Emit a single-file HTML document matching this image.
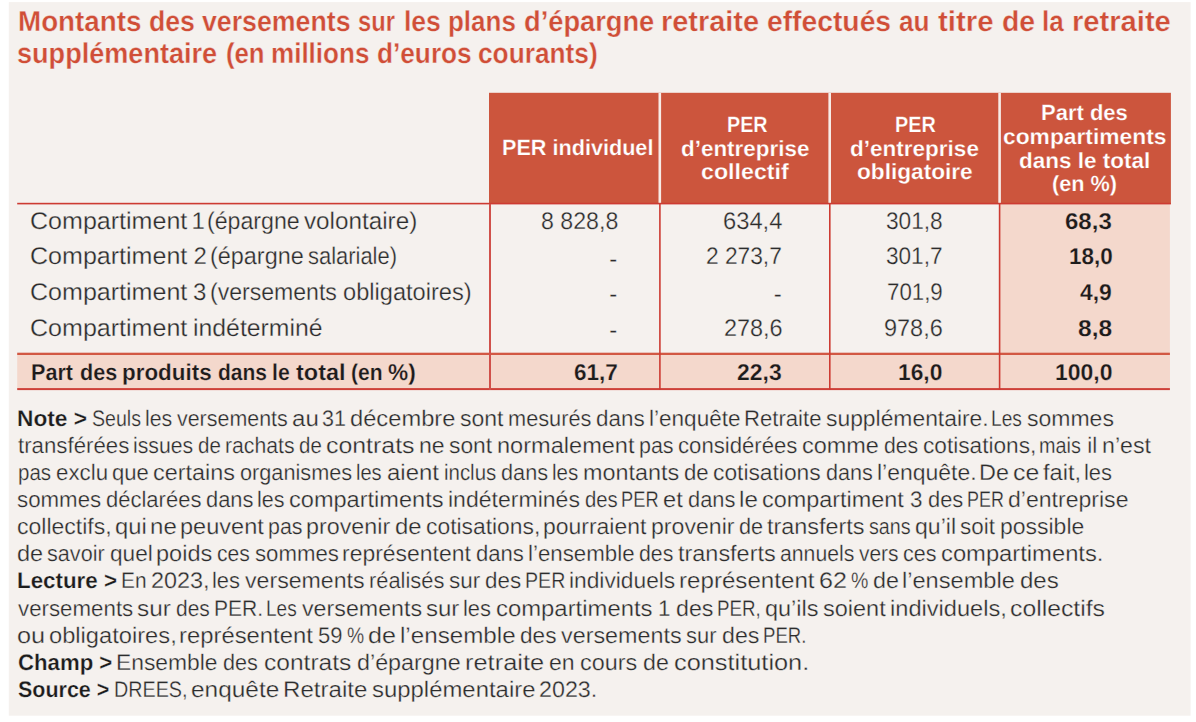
<!DOCTYPE html>
<html><head><meta charset="utf-8"><title>Table</title>
<style>
html,body{margin:0;padding:0;background:#fff;}
body{width:1196px;height:722px;position:relative;overflow:hidden;font-family:"Liberation Sans", sans-serif;}
.t{position:absolute;white-space:pre;line-height:1;font-family:"Liberation Sans", sans-serif;transform-origin:0 0;text-rendering:geometricPrecision;}
.t b{color:#1c1c1c;font-weight:bold;letter-spacing:0.5px;-webkit-text-stroke:0;}
.r{position:absolute;}
</style></head><body>
<svg width="1196" height="722" viewBox="0 0 1196 722" style="position:absolute;left:0;top:0">
<rect x="8.8" y="2.1" width="1181.8" height="713.6" fill="#f5f1ee"/>
<rect x="1000" y="204" width="169.9" height="185" fill="#f4d8cc"/>
<rect x="17.2" y="354" width="1152.7" height="35" fill="#f4d8cc"/>
<rect x="489" y="92.8" width="681.9" height="111" fill="#cc553d"/>
<rect x="658.5" y="92.8" width="2.6" height="110.4" fill="#f7ebe7"/>
<rect x="828.4" y="92.8" width="2.6" height="110.4" fill="#f7ebe7"/>
<rect x="998.3" y="92.8" width="2.6" height="110.4" fill="#f7ebe7"/>
<rect x="17.2" y="202.8" width="1153.7" height="1.6" fill="#cd3b32"/>
<rect x="17.2" y="352.7" width="1152.7" height="2.3" fill="#d25843"/>
<rect x="17.2" y="388.1" width="1152.7" height="2.0" fill="#ce4038"/>
<rect x="489" y="204" width="2" height="186" fill="#d0504a"/>
<rect x="659.1" y="204" width="1.6" height="186" fill="#cd3b32"/>
<rect x="829" y="204" width="1.6" height="186" fill="#cd3b32"/>
<rect x="998.8" y="204" width="1.6" height="186" fill="#cd3b32"/>
</svg>
<div class="t" style="left:17.66px;top:8px;font-size:28.6px;color:#d04e37;transform:scaleX(0.9712);font-weight:bold;-webkit-text-stroke:0.3px #f5f1ee;">Montants</div>
<div class="t" style="left:148.77px;top:8px;font-size:28.6px;color:#d04e37;transform:scaleX(0.9312);font-weight:bold;-webkit-text-stroke:0.3px #f5f1ee;">des</div>
<div class="t" style="left:202.07px;top:8px;font-size:28.6px;color:#d04e37;transform:scaleX(0.9342);font-weight:bold;-webkit-text-stroke:0.3px #f5f1ee;">versements</div>
<div class="t" style="left:357.65px;top:8px;font-size:28.6px;color:#d04e37;transform:scaleX(0.8280);font-weight:bold;-webkit-text-stroke:0.3px #f5f1ee;">sur</div>
<div class="t" style="left:404.49px;top:8px;font-size:28.6px;color:#d04e37;transform:scaleX(0.9277);font-weight:bold;-webkit-text-stroke:0.3px #f5f1ee;">les</div>
<div class="t" style="left:448.06px;top:8px;font-size:28.6px;color:#d04e37;transform:scaleX(0.9081);font-weight:bold;-webkit-text-stroke:0.3px #f5f1ee;">plans</div>
<div class="t" style="left:523.54px;top:8px;font-size:28.6px;color:#d04e37;transform:scaleX(0.9531);font-weight:bold;-webkit-text-stroke:0.3px #f5f1ee;">d’épargne</div>
<div class="t" style="left:661.03px;top:8px;font-size:28.6px;color:#d04e37;transform:scaleX(1.0109);font-weight:bold;-webkit-text-stroke:0.3px #f5f1ee;">retraite</div>
<div class="t" style="left:766.99px;top:8px;font-size:28.6px;color:#d04e37;transform:scaleX(0.9882);font-weight:bold;-webkit-text-stroke:0.3px #f5f1ee;">effectués</div>
<div class="t" style="left:899.28px;top:8px;font-size:28.6px;color:#d04e37;transform:scaleX(0.9158);font-weight:bold;-webkit-text-stroke:0.3px #f5f1ee;">au</div>
<div class="t" style="left:938.11px;top:8px;font-size:28.6px;color:#d04e37;transform:scaleX(1.0265);font-weight:bold;-webkit-text-stroke:0.3px #f5f1ee;">titre</div>
<div class="t" style="left:1001.73px;top:8px;font-size:28.6px;color:#d04e37;transform:scaleX(0.9925);font-weight:bold;-webkit-text-stroke:0.3px #f5f1ee;">de</div>
<div class="t" style="left:1042.14px;top:8px;font-size:28.6px;color:#d04e37;transform:scaleX(0.9110);font-weight:bold;-webkit-text-stroke:0.3px #f5f1ee;">la</div>
<div class="t" style="left:1071.98px;top:8px;font-size:28.6px;color:#d04e37;transform:scaleX(1.0191);font-weight:bold;-webkit-text-stroke:0.3px #f5f1ee;">retraite</div>
<div class="t" style="left:16.70px;top:40px;font-size:28.6px;color:#d04e37;transform:scaleX(0.9471);font-weight:bold;-webkit-text-stroke:0.3px #f5f1ee;">supplémentaire</div>
<div class="t" style="left:225.94px;top:40px;font-size:28.6px;color:#d04e37;transform:scaleX(0.8997);font-weight:bold;-webkit-text-stroke:0.3px #f5f1ee;">(en</div>
<div class="t" style="left:270.80px;top:40px;font-size:28.6px;color:#d04e37;transform:scaleX(0.9106);font-weight:bold;-webkit-text-stroke:0.3px #f5f1ee;">millions</div>
<div class="t" style="left:376.67px;top:40px;font-size:28.6px;color:#d04e37;transform:scaleX(0.9167);font-weight:bold;-webkit-text-stroke:0.3px #f5f1ee;">d’euros</div>
<div class="t" style="left:477.61px;top:40px;font-size:28.6px;color:#d04e37;transform:scaleX(0.9186);font-weight:bold;-webkit-text-stroke:0.3px #f5f1ee;">courants)</div>
<div class="t" style="left:502.03px;top:137px;font-size:22px;color:#ffffff;transform:scaleX(0.9830);font-weight:bold;-webkit-text-stroke:0.25px #cc553d;">PER individuel</div>
<div class="t" style="left:727.41px;top:114px;font-size:22px;color:#ffffff;transform:scaleX(0.8957);font-weight:bold;-webkit-text-stroke:0.25px #cc553d;">PER</div>
<div class="t" style="left:680.51px;top:138px;font-size:22px;color:#ffffff;transform:scaleX(1.0193);font-weight:bold;-webkit-text-stroke:0.25px #cc553d;">d’entreprise</div>
<div class="t" style="left:700.95px;top:161px;font-size:22px;color:#ffffff;transform:scaleX(1.0549);font-weight:bold;-webkit-text-stroke:0.25px #cc553d;">collectif</div>
<div class="t" style="left:894.72px;top:114px;font-size:22px;color:#ffffff;transform:scaleX(0.8998);font-weight:bold;-webkit-text-stroke:0.25px #cc553d;">PER</div>
<div class="t" style="left:850.36px;top:138px;font-size:22px;color:#ffffff;transform:scaleX(1.0236);font-weight:bold;-webkit-text-stroke:0.25px #cc553d;">d’entreprise</div>
<div class="t" style="left:856.67px;top:161px;font-size:22px;color:#ffffff;transform:scaleX(1.0290);font-weight:bold;-webkit-text-stroke:0.25px #cc553d;">obligatoire</div>
<div class="t" style="left:1041.07px;top:102px;font-size:22px;color:#ffffff;transform:scaleX(0.9998);font-weight:bold;-webkit-text-stroke:0.25px #cc553d;">Part des</div>
<div class="t" style="left:1002.89px;top:126px;font-size:22px;color:#ffffff;transform:scaleX(1.0365);font-weight:bold;-webkit-text-stroke:0.25px #cc553d;">compartiments</div>
<div class="t" style="left:1018.95px;top:150px;font-size:22px;color:#ffffff;transform:scaleX(1.0219);font-weight:bold;-webkit-text-stroke:0.25px #cc553d;">dans le total</div>
<div class="t" style="left:1051.78px;top:173px;font-size:22px;color:#ffffff;transform:scaleX(0.9849);font-weight:bold;-webkit-text-stroke:0.25px #cc553d;">(en %)</div>
<div class="t" style="left:30.14px;top:210px;font-size:24px;color:#2c2c2c;transform:scaleX(1.0436);-webkit-text-stroke:0.28px #f5f1ee;">Compartiment</div>
<div class="t" style="left:191.53px;top:210px;font-size:24px;color:#2c2c2c;transform:scaleX(1.0000);-webkit-text-stroke:0.28px #f5f1ee;">1</div>
<div class="t" style="left:206.89px;top:210px;font-size:24px;color:#2c2c2c;transform:scaleX(0.9653);-webkit-text-stroke:0.28px #f5f1ee;">(épargne</div>
<div class="t" style="left:303.96px;top:210px;font-size:24px;color:#2c2c2c;transform:scaleX(1.0103);-webkit-text-stroke:0.28px #f5f1ee;">volontaire)</div>
<div class="t" style="left:30.14px;top:245px;font-size:24px;color:#2c2c2c;transform:scaleX(1.0436);-webkit-text-stroke:0.28px #f5f1ee;">Compartiment</div>
<div class="t" style="left:193.55px;top:245px;font-size:24px;color:#2c2c2c;transform:scaleX(1.0000);-webkit-text-stroke:0.28px #f5f1ee;">2</div>
<div class="t" style="left:210.05px;top:245px;font-size:24px;color:#2c2c2c;transform:scaleX(0.9751);-webkit-text-stroke:0.28px #f5f1ee;">(épargne</div>
<div class="t" style="left:308.00px;top:245px;font-size:24px;color:#2c2c2c;transform:scaleX(0.9134);-webkit-text-stroke:0.28px #f5f1ee;">salariale)</div>
<div class="t" style="left:30.14px;top:281px;font-size:24px;color:#2c2c2c;transform:scaleX(1.0436);-webkit-text-stroke:0.28px #f5f1ee;">Compartiment</div>
<div class="t" style="left:192.88px;top:281px;font-size:24px;color:#2c2c2c;transform:scaleX(1.0000);-webkit-text-stroke:0.28px #f5f1ee;">3</div>
<div class="t" style="left:209.97px;top:281px;font-size:24px;color:#2c2c2c;transform:scaleX(0.9606);-webkit-text-stroke:0.28px #f5f1ee;">(versements</div>
<div class="t" style="left:343.20px;top:281px;font-size:24px;color:#2c2c2c;transform:scaleX(0.9837);-webkit-text-stroke:0.28px #f5f1ee;">obligatoires)</div>
<div class="t" style="left:30.14px;top:317px;font-size:24px;color:#2c2c2c;transform:scaleX(1.0436);-webkit-text-stroke:0.28px #f5f1ee;">Compartiment</div>
<div class="t" style="left:192.73px;top:317px;font-size:24px;color:#2c2c2c;transform:scaleX(1.0336);-webkit-text-stroke:0.28px #f5f1ee;">indéterminé</div>
<div class="t" style="left:31.09px;top:361px;font-size:22.9px;color:#1c1c1c;transform:scaleX(0.9436);font-weight:bold;-webkit-text-stroke:0.25px #f4d8cc;">Part</div>
<div class="t" style="left:80.19px;top:361px;font-size:22.9px;color:#1c1c1c;transform:scaleX(0.9426);font-weight:bold;-webkit-text-stroke:0.25px #f4d8cc;">des</div>
<div class="t" style="left:122.04px;top:361px;font-size:22.9px;color:#1c1c1c;transform:scaleX(0.9786);font-weight:bold;-webkit-text-stroke:0.25px #f4d8cc;">produits</div>
<div class="t" style="left:217.86px;top:361px;font-size:22.9px;color:#1c1c1c;transform:scaleX(0.9183);font-weight:bold;-webkit-text-stroke:0.25px #f4d8cc;">dans</div>
<div class="t" style="left:272.09px;top:361px;font-size:22.9px;color:#1c1c1c;transform:scaleX(0.9259);font-weight:bold;-webkit-text-stroke:0.25px #f4d8cc;">le</div>
<div class="t" style="left:295.58px;top:361px;font-size:22.9px;color:#1c1c1c;transform:scaleX(1.0256);font-weight:bold;-webkit-text-stroke:0.25px #f4d8cc;">total</div>
<div class="t" style="left:350.52px;top:361px;font-size:22.9px;color:#1c1c1c;transform:scaleX(0.9189);font-weight:bold;-webkit-text-stroke:0.25px #f4d8cc;">(en</div>
<div class="t" style="left:387.62px;top:361px;font-size:22.9px;color:#1c1c1c;transform:scaleX(0.9900);font-weight:bold;-webkit-text-stroke:0.25px #f4d8cc;">%)</div>
<div class="t" style="left:540.63px;top:210px;font-size:24px;color:#2c2c2c;transform:scaleX(0.9648);-webkit-text-stroke:0.28px #f5f1ee;">8 828,8</div>
<div class="t" style="left:609.32px;top:248px;font-size:24px;color:#2c2c2c;transform:scaleX(1.0000);-webkit-text-stroke:0.28px #f5f1ee;">-</div>
<div class="t" style="left:609.32px;top:283px;font-size:24px;color:#2c2c2c;transform:scaleX(1.0000);-webkit-text-stroke:0.28px #f5f1ee;">-</div>
<div class="t" style="left:609.32px;top:319px;font-size:24px;color:#2c2c2c;transform:scaleX(1.0000);-webkit-text-stroke:0.28px #f5f1ee;">-</div>
<div class="t" style="left:574.15px;top:361px;font-size:22.9px;color:#1c1c1c;transform:scaleX(0.9839);font-weight:bold;-webkit-text-stroke:0.25px #f4d8cc;">61,7</div>
<div class="t" style="left:722.90px;top:210px;font-size:24px;color:#2c2c2c;transform:scaleX(0.9884);-webkit-text-stroke:0.28px #f5f1ee;">634,4</div>
<div class="t" style="left:706.27px;top:245px;font-size:24px;color:#2c2c2c;transform:scaleX(0.9468);-webkit-text-stroke:0.28px #f5f1ee;">2 273,7</div>
<div class="t" style="left:773.87px;top:283px;font-size:24px;color:#2c2c2c;transform:scaleX(1.0000);-webkit-text-stroke:0.28px #f5f1ee;">-</div>
<div class="t" style="left:724.26px;top:317px;font-size:24px;color:#2c2c2c;transform:scaleX(0.9766);-webkit-text-stroke:0.28px #f5f1ee;">278,6</div>
<div class="t" style="left:736.99px;top:361px;font-size:22.9px;color:#1c1c1c;transform:scaleX(1.0022);font-weight:bold;-webkit-text-stroke:0.25px #f4d8cc;">22,3</div>
<div class="t" style="left:886.03px;top:210px;font-size:24px;color:#2c2c2c;transform:scaleX(0.9443);-webkit-text-stroke:0.28px #f5f1ee;">301,8</div>
<div class="t" style="left:886.28px;top:245px;font-size:24px;color:#2c2c2c;transform:scaleX(0.9404);-webkit-text-stroke:0.28px #f5f1ee;">301,7</div>
<div class="t" style="left:887.02px;top:281px;font-size:24px;color:#2c2c2c;transform:scaleX(0.9273);-webkit-text-stroke:0.28px #f5f1ee;">701,9</div>
<div class="t" style="left:883.67px;top:317px;font-size:24px;color:#2c2c2c;transform:scaleX(0.9775);-webkit-text-stroke:0.28px #f5f1ee;">978,6</div>
<div class="t" style="left:897.90px;top:361px;font-size:22.9px;color:#1c1c1c;transform:scaleX(0.9964);font-weight:bold;-webkit-text-stroke:0.25px #f4d8cc;">16,0</div>
<div class="t" style="left:1064.86px;top:210px;font-size:22.9px;color:#1c1c1c;transform:scaleX(1.0497);font-weight:bold;-webkit-text-stroke:0.25px #f4d8cc;">68,3</div>
<div class="t" style="left:1068.95px;top:245px;font-size:22.9px;color:#1c1c1c;transform:scaleX(0.9813);font-weight:bold;-webkit-text-stroke:0.25px #f4d8cc;">18,0</div>
<div class="t" style="left:1080.00px;top:281px;font-size:22.9px;color:#1c1c1c;transform:scaleX(1.0000);font-weight:bold;-webkit-text-stroke:0.25px #f4d8cc;">4,9</div>
<div class="t" style="left:1078.18px;top:317px;font-size:22.9px;color:#1c1c1c;transform:scaleX(1.0721);font-weight:bold;-webkit-text-stroke:0.25px #f4d8cc;">8,8</div>
<div class="t" style="left:1055.28px;top:361px;font-size:22.9px;color:#1c1c1c;transform:scaleX(1.0028);font-weight:bold;-webkit-text-stroke:0.25px #f4d8cc;">100,0</div>
<div class="t" style="left:17.02px;top:408px;font-size:22.4px;color:#1c1c1c;transform:scaleX(1.0144);font-weight:bold;-webkit-text-stroke:0.25px #f5f1ee;">Note &gt;</div>
<div class="t" style="left:91.56px;top:408px;font-size:22.4px;color:#2c2c2c;transform:scaleX(0.8750);-webkit-text-stroke:0.28px #f5f1ee;">Seuls</div>
<div class="t" style="left:144.88px;top:408px;font-size:22.4px;color:#2c2c2c;transform:scaleX(0.9534);-webkit-text-stroke:0.28px #f5f1ee;">les</div>
<div class="t" style="left:176.85px;top:408px;font-size:22.4px;color:#2c2c2c;transform:scaleX(0.9567);-webkit-text-stroke:0.28px #f5f1ee;">versements</div>
<div class="t" style="left:291.86px;top:408px;font-size:22.4px;color:#2c2c2c;transform:scaleX(1.0751);-webkit-text-stroke:0.28px #f5f1ee;">au</div>
<div class="t" style="left:322.46px;top:408px;font-size:22.4px;color:#2c2c2c;transform:scaleX(0.9587);-webkit-text-stroke:0.28px #f5f1ee;">31</div>
<div class="t" style="left:349.92px;top:408px;font-size:22.4px;color:#2c2c2c;transform:scaleX(1.0587);-webkit-text-stroke:0.28px #f5f1ee;">décembre</div>
<div class="t" style="left:460.04px;top:408px;font-size:22.4px;color:#2c2c2c;transform:scaleX(1.0279);-webkit-text-stroke:0.28px #f5f1ee;">sont</div>
<div class="t" style="left:508.02px;top:408px;font-size:22.4px;color:#2c2c2c;transform:scaleX(0.9718);-webkit-text-stroke:0.28px #f5f1ee;">mesurés</div>
<div class="t" style="left:596.39px;top:408px;font-size:22.4px;color:#2c2c2c;transform:scaleX(1.0017);-webkit-text-stroke:0.28px #f5f1ee;">dans</div>
<div class="t" style="left:648.57px;top:408px;font-size:22.4px;color:#2c2c2c;transform:scaleX(1.0077);-webkit-text-stroke:0.28px #f5f1ee;">l’enquête</div>
<div class="t" style="left:744.17px;top:408px;font-size:22.4px;color:#2c2c2c;transform:scaleX(0.9883);-webkit-text-stroke:0.28px #f5f1ee;">Retraite</div>
<div class="t" style="left:826.32px;top:408px;font-size:22.4px;color:#2c2c2c;transform:scaleX(1.0211);-webkit-text-stroke:0.28px #f5f1ee;">supplémentaire.</div>
<div class="t" style="left:991.02px;top:408px;font-size:22.4px;color:#2c2c2c;transform:scaleX(0.8541);-webkit-text-stroke:0.28px #f5f1ee;">Les</div>
<div class="t" style="left:1026.88px;top:408px;font-size:22.4px;color:#2c2c2c;transform:scaleX(1.0273);-webkit-text-stroke:0.28px #f5f1ee;">sommes</div>
<div class="t" style="left:17.65px;top:435px;font-size:22.4px;color:#2c2c2c;transform:scaleX(0.9934);-webkit-text-stroke:0.28px #f5f1ee;">transférées</div>
<div class="t" style="left:133.11px;top:435px;font-size:22.4px;color:#2c2c2c;transform:scaleX(0.9473);-webkit-text-stroke:0.28px #f5f1ee;">issues</div>
<div class="t" style="left:197.95px;top:435px;font-size:22.4px;color:#2c2c2c;transform:scaleX(0.9200);-webkit-text-stroke:0.28px #f5f1ee;">de</div>
<div class="t" style="left:225.07px;top:435px;font-size:22.4px;color:#2c2c2c;transform:scaleX(0.9464);-webkit-text-stroke:0.28px #f5f1ee;">rachats</div>
<div class="t" style="left:299.00px;top:435px;font-size:22.4px;color:#2c2c2c;transform:scaleX(0.9142);-webkit-text-stroke:0.28px #f5f1ee;">de</div>
<div class="t" style="left:326.26px;top:435px;font-size:22.4px;color:#2c2c2c;transform:scaleX(1.1111);-webkit-text-stroke:0.28px #f5f1ee;">contrats</div>
<div class="t" style="left:418.71px;top:435px;font-size:22.4px;color:#2c2c2c;transform:scaleX(1.0317);-webkit-text-stroke:0.28px #f5f1ee;">ne</div>
<div class="t" style="left:449.21px;top:435px;font-size:22.4px;color:#2c2c2c;transform:scaleX(1.0192);-webkit-text-stroke:0.28px #f5f1ee;">sont</div>
<div class="t" style="left:496.88px;top:435px;font-size:22.4px;color:#2c2c2c;transform:scaleX(1.0524);-webkit-text-stroke:0.28px #f5f1ee;">normalement</div>
<div class="t" style="left:638.86px;top:435px;font-size:22.4px;color:#2c2c2c;transform:scaleX(0.9577);-webkit-text-stroke:0.28px #f5f1ee;">pas</div>
<div class="t" style="left:678.24px;top:435px;font-size:22.4px;color:#2c2c2c;transform:scaleX(0.9888);-webkit-text-stroke:0.28px #f5f1ee;">considérées</div>
<div class="t" style="left:801.92px;top:435px;font-size:22.4px;color:#2c2c2c;transform:scaleX(1.0477);-webkit-text-stroke:0.28px #f5f1ee;">comme</div>
<div class="t" style="left:883.89px;top:435px;font-size:22.4px;color:#2c2c2c;transform:scaleX(0.9470);-webkit-text-stroke:0.28px #f5f1ee;">des</div>
<div class="t" style="left:922.85px;top:435px;font-size:22.4px;color:#2c2c2c;transform:scaleX(1.0117);-webkit-text-stroke:0.28px #f5f1ee;">cotisations,</div>
<div class="t" style="left:1039.36px;top:435px;font-size:22.4px;color:#2c2c2c;transform:scaleX(0.8841);-webkit-text-stroke:0.28px #f5f1ee;">mais</div>
<div class="t" style="left:1087.17px;top:435px;font-size:22.4px;color:#2c2c2c;transform:scaleX(1.0000);-webkit-text-stroke:0.28px #f5f1ee;">il</div>
<div class="t" style="left:1102.33px;top:435px;font-size:22.4px;color:#2c2c2c;transform:scaleX(1.0344);-webkit-text-stroke:0.28px #f5f1ee;">n’est</div>
<div class="t" style="left:17.78px;top:462px;font-size:22.4px;color:#2c2c2c;transform:scaleX(0.9158);-webkit-text-stroke:0.28px #f5f1ee;">pas</div>
<div class="t" style="left:55.57px;top:462px;font-size:22.4px;color:#2c2c2c;transform:scaleX(0.9964);-webkit-text-stroke:0.28px #f5f1ee;">exclu</div>
<div class="t" style="left:111.63px;top:462px;font-size:22.4px;color:#2c2c2c;transform:scaleX(0.9866);-webkit-text-stroke:0.28px #f5f1ee;">que</div>
<div class="t" style="left:152.93px;top:462px;font-size:22.4px;color:#2c2c2c;transform:scaleX(1.0461);-webkit-text-stroke:0.28px #f5f1ee;">certains</div>
<div class="t" style="left:239.70px;top:462px;font-size:22.4px;color:#2c2c2c;transform:scaleX(0.9691);-webkit-text-stroke:0.28px #f5f1ee;">organismes</div>
<div class="t" style="left:355.92px;top:462px;font-size:22.4px;color:#2c2c2c;transform:scaleX(0.8960);-webkit-text-stroke:0.28px #f5f1ee;">les</div>
<div class="t" style="left:386.51px;top:462px;font-size:22.4px;color:#2c2c2c;transform:scaleX(1.0701);-webkit-text-stroke:0.28px #f5f1ee;">aient</div>
<div class="t" style="left:443.68px;top:462px;font-size:22.4px;color:#2c2c2c;transform:scaleX(0.9124);-webkit-text-stroke:0.28px #f5f1ee;">inclus</div>
<div class="t" style="left:500.89px;top:462px;font-size:22.4px;color:#2c2c2c;transform:scaleX(0.9690);-webkit-text-stroke:0.28px #f5f1ee;">dans</div>
<div class="t" style="left:552.32px;top:462px;font-size:22.4px;color:#2c2c2c;transform:scaleX(0.9173);-webkit-text-stroke:0.28px #f5f1ee;">les</div>
<div class="t" style="left:582.93px;top:462px;font-size:22.4px;color:#2c2c2c;transform:scaleX(1.0443);-webkit-text-stroke:0.28px #f5f1ee;">montants</div>
<div class="t" style="left:683.73px;top:462px;font-size:22.4px;color:#2c2c2c;transform:scaleX(0.9922);-webkit-text-stroke:0.28px #f5f1ee;">de</div>
<div class="t" style="left:712.99px;top:462px;font-size:22.4px;color:#2c2c2c;transform:scaleX(1.0173);-webkit-text-stroke:0.28px #f5f1ee;">cotisations</div>
<div class="t" style="left:825.64px;top:462px;font-size:22.4px;color:#2c2c2c;transform:scaleX(0.9661);-webkit-text-stroke:0.28px #f5f1ee;">dans</div>
<div class="t" style="left:876.96px;top:462px;font-size:22.4px;color:#2c2c2c;transform:scaleX(1.0262);-webkit-text-stroke:0.28px #f5f1ee;">l’enquête.</div>
<div class="t" style="left:979.45px;top:462px;font-size:22.4px;color:#2c2c2c;transform:scaleX(1.0444);-webkit-text-stroke:0.28px #f5f1ee;">De</div>
<div class="t" style="left:1013.26px;top:462px;font-size:22.4px;color:#2c2c2c;transform:scaleX(1.1095);-webkit-text-stroke:0.28px #f5f1ee;">ce</div>
<div class="t" style="left:1043.28px;top:462px;font-size:22.4px;color:#2c2c2c;transform:scaleX(1.0532);-webkit-text-stroke:0.28px #f5f1ee;">fait,</div>
<div class="t" style="left:1084.04px;top:462px;font-size:22.4px;color:#2c2c2c;transform:scaleX(0.9781);-webkit-text-stroke:0.28px #f5f1ee;">les</div>
<div class="t" style="left:17.21px;top:489px;font-size:22.4px;color:#2c2c2c;transform:scaleX(0.9951);-webkit-text-stroke:0.28px #f5f1ee;">sommes</div>
<div class="t" style="left:105.76px;top:489px;font-size:22.4px;color:#2c2c2c;transform:scaleX(0.9826);-webkit-text-stroke:0.28px #f5f1ee;">déclarées</div>
<div class="t" style="left:206.24px;top:489px;font-size:22.4px;color:#2c2c2c;transform:scaleX(0.9768);-webkit-text-stroke:0.28px #f5f1ee;">dans</div>
<div class="t" style="left:257.26px;top:489px;font-size:22.4px;color:#2c2c2c;transform:scaleX(0.9597);-webkit-text-stroke:0.28px #f5f1ee;">les</div>
<div class="t" style="left:289.27px;top:489px;font-size:22.4px;color:#2c2c2c;transform:scaleX(1.0519);-webkit-text-stroke:0.28px #f5f1ee;">compartiments</div>
<div class="t" style="left:447.77px;top:489px;font-size:22.4px;color:#2c2c2c;transform:scaleX(1.0290);-webkit-text-stroke:0.28px #f5f1ee;">indéterminés</div>
<div class="t" style="left:584.54px;top:489px;font-size:22.4px;color:#2c2c2c;transform:scaleX(0.9068);-webkit-text-stroke:0.28px #f5f1ee;">des</div>
<div class="t" style="left:621.09px;top:489px;font-size:22.4px;color:#2c2c2c;transform:scaleX(0.8164);-webkit-text-stroke:0.28px #f5f1ee;">PER</div>
<div class="t" style="left:662.91px;top:489px;font-size:22.4px;color:#2c2c2c;transform:scaleX(1.0580);-webkit-text-stroke:0.28px #f5f1ee;">et</div>
<div class="t" style="left:688.06px;top:489px;font-size:22.4px;color:#2c2c2c;transform:scaleX(0.9748);-webkit-text-stroke:0.28px #f5f1ee;">dans</div>
<div class="t" style="left:739.24px;top:489px;font-size:22.4px;color:#2c2c2c;transform:scaleX(1.0819);-webkit-text-stroke:0.28px #f5f1ee;">le</div>
<div class="t" style="left:762.14px;top:489px;font-size:22.4px;color:#2c2c2c;transform:scaleX(1.0457);-webkit-text-stroke:0.28px #f5f1ee;">compartiment</div>
<div class="t" style="left:910.07px;top:489px;font-size:22.4px;color:#2c2c2c;transform:scaleX(1.0000);-webkit-text-stroke:0.28px #f5f1ee;">3</div>
<div class="t" style="left:928.26px;top:489px;font-size:22.4px;color:#2c2c2c;transform:scaleX(0.9768);-webkit-text-stroke:0.28px #f5f1ee;">des</div>
<div class="t" style="left:966.74px;top:489px;font-size:22.4px;color:#2c2c2c;transform:scaleX(0.8014);-webkit-text-stroke:0.28px #f5f1ee;">PER</div>
<div class="t" style="left:1008.03px;top:489px;font-size:22.4px;color:#2c2c2c;transform:scaleX(1.0297);-webkit-text-stroke:0.28px #f5f1ee;">d’entreprise</div>
<div class="t" style="left:17.12px;top:516px;font-size:22.4px;color:#2c2c2c;transform:scaleX(1.0278);-webkit-text-stroke:0.28px #f5f1ee;">collectifs,</div>
<div class="t" style="left:114.90px;top:516px;font-size:22.4px;color:#2c2c2c;transform:scaleX(1.0609);-webkit-text-stroke:0.28px #f5f1ee;">qui</div>
<div class="t" style="left:149.65px;top:516px;font-size:22.4px;color:#2c2c2c;transform:scaleX(1.0755);-webkit-text-stroke:0.28px #f5f1ee;">ne</div>
<div class="t" style="left:179.90px;top:516px;font-size:22.4px;color:#2c2c2c;transform:scaleX(1.0520);-webkit-text-stroke:0.28px #f5f1ee;">peuvent</div>
<div class="t" style="left:268.08px;top:516px;font-size:22.4px;color:#2c2c2c;transform:scaleX(0.9559);-webkit-text-stroke:0.28px #f5f1ee;">pas</div>
<div class="t" style="left:305.83px;top:516px;font-size:22.4px;color:#2c2c2c;transform:scaleX(1.0402);-webkit-text-stroke:0.28px #f5f1ee;">provenir</div>
<div class="t" style="left:394.90px;top:516px;font-size:22.4px;color:#2c2c2c;transform:scaleX(1.0682);-webkit-text-stroke:0.28px #f5f1ee;">de</div>
<div class="t" style="left:425.58px;top:516px;font-size:22.4px;color:#2c2c2c;transform:scaleX(1.0205);-webkit-text-stroke:0.28px #f5f1ee;">cotisations,</div>
<div class="t" style="left:542.79px;top:516px;font-size:22.4px;color:#2c2c2c;transform:scaleX(1.0242);-webkit-text-stroke:0.28px #f5f1ee;">pourraient</div>
<div class="t" style="left:650.78px;top:516px;font-size:22.4px;color:#2c2c2c;transform:scaleX(1.0320);-webkit-text-stroke:0.28px #f5f1ee;">provenir</div>
<div class="t" style="left:739.05px;top:516px;font-size:22.4px;color:#2c2c2c;transform:scaleX(0.9682);-webkit-text-stroke:0.28px #f5f1ee;">de</div>
<div class="t" style="left:767.28px;top:516px;font-size:22.4px;color:#2c2c2c;transform:scaleX(1.0454);-webkit-text-stroke:0.28px #f5f1ee;">transferts</div>
<div class="t" style="left:868.99px;top:516px;font-size:22.4px;color:#2c2c2c;transform:scaleX(0.8789);-webkit-text-stroke:0.28px #f5f1ee;">sans</div>
<div class="t" style="left:915.16px;top:516px;font-size:22.4px;color:#2c2c2c;transform:scaleX(1.0297);-webkit-text-stroke:0.28px #f5f1ee;">qu’il</div>
<div class="t" style="left:960.14px;top:516px;font-size:22.4px;color:#2c2c2c;transform:scaleX(1.0002);-webkit-text-stroke:0.28px #f5f1ee;">soit</div>
<div class="t" style="left:999.79px;top:516px;font-size:22.4px;color:#2c2c2c;transform:scaleX(1.0256);-webkit-text-stroke:0.28px #f5f1ee;">possible</div>
<div class="t" style="left:17.13px;top:543px;font-size:22.4px;color:#2c2c2c;transform:scaleX(1.0500);-webkit-text-stroke:0.28px #f5f1ee;">de</div>
<div class="t" style="left:47.05px;top:543px;font-size:22.4px;color:#2c2c2c;transform:scaleX(0.9653);-webkit-text-stroke:0.28px #f5f1ee;">savoir</div>
<div class="t" style="left:109.85px;top:543px;font-size:22.4px;color:#2c2c2c;transform:scaleX(1.0111);-webkit-text-stroke:0.28px #f5f1ee;">quel</div>
<div class="t" style="left:155.91px;top:543px;font-size:22.4px;color:#2c2c2c;transform:scaleX(1.0519);-webkit-text-stroke:0.28px #f5f1ee;">poids</div>
<div class="t" style="left:216.92px;top:543px;font-size:22.4px;color:#2c2c2c;transform:scaleX(0.9435);-webkit-text-stroke:0.28px #f5f1ee;">ces</div>
<div class="t" style="left:254.53px;top:543px;font-size:22.4px;color:#2c2c2c;transform:scaleX(0.9915);-webkit-text-stroke:0.28px #f5f1ee;">sommes</div>
<div class="t" style="left:341.95px;top:543px;font-size:22.4px;color:#2c2c2c;transform:scaleX(1.0244);-webkit-text-stroke:0.28px #f5f1ee;">représentent</div>
<div class="t" style="left:476.22px;top:543px;font-size:22.4px;color:#2c2c2c;transform:scaleX(0.9870);-webkit-text-stroke:0.28px #f5f1ee;">dans</div>
<div class="t" style="left:527.79px;top:543px;font-size:22.4px;color:#2c2c2c;transform:scaleX(0.9952);-webkit-text-stroke:0.28px #f5f1ee;">l’ensemble</div>
<div class="t" style="left:639.19px;top:543px;font-size:22.4px;color:#2c2c2c;transform:scaleX(0.9494);-webkit-text-stroke:0.28px #f5f1ee;">des</div>
<div class="t" style="left:678.18px;top:543px;font-size:22.4px;color:#2c2c2c;transform:scaleX(1.0468);-webkit-text-stroke:0.28px #f5f1ee;">transferts</div>
<div class="t" style="left:780.27px;top:543px;font-size:22.4px;color:#2c2c2c;transform:scaleX(0.9474);-webkit-text-stroke:0.28px #f5f1ee;">annuels</div>
<div class="t" style="left:859.40px;top:543px;font-size:22.4px;color:#2c2c2c;transform:scaleX(0.9353);-webkit-text-stroke:0.28px #f5f1ee;">vers</div>
<div class="t" style="left:903.27px;top:543px;font-size:22.4px;color:#2c2c2c;transform:scaleX(0.9593);-webkit-text-stroke:0.28px #f5f1ee;">ces</div>
<div class="t" style="left:941.16px;top:543px;font-size:22.4px;color:#2c2c2c;transform:scaleX(1.0613);-webkit-text-stroke:0.28px #f5f1ee;">compartiments.</div>
<div class="t" style="left:17.45px;top:570px;font-size:22.4px;color:#1c1c1c;transform:scaleX(0.9981);font-weight:bold;-webkit-text-stroke:0.25px #f5f1ee;">Lecture &gt;</div>
<div class="t" style="left:121.11px;top:570px;font-size:22.4px;color:#2c2c2c;transform:scaleX(0.9330);-webkit-text-stroke:0.28px #f5f1ee;">En</div>
<div class="t" style="left:150.97px;top:570px;font-size:22.4px;color:#2c2c2c;transform:scaleX(1.0464);-webkit-text-stroke:0.28px #f5f1ee;">2023,</div>
<div class="t" style="left:212.04px;top:570px;font-size:22.4px;color:#2c2c2c;transform:scaleX(0.9781);-webkit-text-stroke:0.28px #f5f1ee;">les</div>
<div class="t" style="left:245.10px;top:570px;font-size:22.4px;color:#2c2c2c;transform:scaleX(1.0333);-webkit-text-stroke:0.28px #f5f1ee;">versements</div>
<div class="t" style="left:368.84px;top:570px;font-size:22.4px;color:#2c2c2c;transform:scaleX(0.9768);-webkit-text-stroke:0.28px #f5f1ee;">réalisés</div>
<div class="t" style="left:449.09px;top:570px;font-size:22.4px;color:#2c2c2c;transform:scaleX(1.0000);-webkit-text-stroke:0.28px #f5f1ee;">sur</div>
<div class="t" style="left:485.41px;top:570px;font-size:22.4px;color:#2c2c2c;transform:scaleX(0.9990);-webkit-text-stroke:0.28px #f5f1ee;">des</div>
<div class="t" style="left:524.72px;top:570px;font-size:22.4px;color:#2c2c2c;transform:scaleX(0.8755);-webkit-text-stroke:0.28px #f5f1ee;">PER</div>
<div class="t" style="left:568.60px;top:570px;font-size:22.4px;color:#2c2c2c;transform:scaleX(1.0162);-webkit-text-stroke:0.28px #f5f1ee;">individuels</div>
<div class="t" style="left:678.64px;top:570px;font-size:22.4px;color:#2c2c2c;transform:scaleX(1.0781);-webkit-text-stroke:0.28px #f5f1ee;">représentent</div>
<div class="t" style="left:819.31px;top:570px;font-size:22.4px;color:#2c2c2c;transform:scaleX(1.1207);-webkit-text-stroke:0.28px #f5f1ee;">62</div>
<div class="t" style="left:851.08px;top:570px;font-size:22.4px;color:#2c2c2c;transform:scaleX(0.8719);-webkit-text-stroke:0.28px #f5f1ee;">%</div>
<div class="t" style="left:873.45px;top:570px;font-size:22.4px;color:#2c2c2c;transform:scaleX(1.0421);-webkit-text-stroke:0.28px #f5f1ee;">de</div>
<div class="t" style="left:902.21px;top:570px;font-size:22.4px;color:#2c2c2c;transform:scaleX(1.0545);-webkit-text-stroke:0.28px #f5f1ee;">l’ensemble</div>
<div class="t" style="left:1019.67px;top:570px;font-size:22.4px;color:#2c2c2c;transform:scaleX(1.0735);-webkit-text-stroke:0.28px #f5f1ee;">des</div>
<div class="t" style="left:17.55px;top:598px;font-size:22.4px;color:#2c2c2c;transform:scaleX(0.9956);-webkit-text-stroke:0.28px #f5f1ee;">versements</div>
<div class="t" style="left:137.05px;top:598px;font-size:22.4px;color:#2c2c2c;transform:scaleX(1.0864);-webkit-text-stroke:0.28px #f5f1ee;">sur</div>
<div class="t" style="left:176.24px;top:598px;font-size:22.4px;color:#2c2c2c;transform:scaleX(0.9357);-webkit-text-stroke:0.28px #f5f1ee;">des</div>
<div class="t" style="left:213.54px;top:598px;font-size:22.4px;color:#2c2c2c;transform:scaleX(0.9402);-webkit-text-stroke:0.28px #f5f1ee;">PER.</div>
<div class="t" style="left:265.81px;top:598px;font-size:22.4px;color:#2c2c2c;transform:scaleX(0.8488);-webkit-text-stroke:0.28px #f5f1ee;">Les</div>
<div class="t" style="left:301.92px;top:598px;font-size:22.4px;color:#2c2c2c;transform:scaleX(1.0374);-webkit-text-stroke:0.28px #f5f1ee;">versements</div>
<div class="t" style="left:425.74px;top:598px;font-size:22.4px;color:#2c2c2c;transform:scaleX(1.0724);-webkit-text-stroke:0.28px #f5f1ee;">sur</div>
<div class="t" style="left:463.04px;top:598px;font-size:22.4px;color:#2c2c2c;transform:scaleX(0.9781);-webkit-text-stroke:0.28px #f5f1ee;">les</div>
<div class="t" style="left:495.78px;top:598px;font-size:22.4px;color:#2c2c2c;transform:scaleX(1.0659);-webkit-text-stroke:0.28px #f5f1ee;">compartiments</div>
<div class="t" style="left:658.11px;top:598px;font-size:22.4px;color:#2c2c2c;transform:scaleX(1.0000);-webkit-text-stroke:0.28px #f5f1ee;">1</div>
<div class="t" style="left:676.33px;top:598px;font-size:22.4px;color:#2c2c2c;transform:scaleX(1.0377);-webkit-text-stroke:0.28px #f5f1ee;">des</div>
<div class="t" style="left:717.05px;top:598px;font-size:22.4px;color:#2c2c2c;transform:scaleX(0.8367);-webkit-text-stroke:0.28px #f5f1ee;">PER,</div>
<div class="t" style="left:764.93px;top:598px;font-size:22.4px;color:#2c2c2c;transform:scaleX(1.0474);-webkit-text-stroke:0.28px #f5f1ee;">qu’ils</div>
<div class="t" style="left:822.98px;top:598px;font-size:22.4px;color:#2c2c2c;transform:scaleX(1.0487);-webkit-text-stroke:0.28px #f5f1ee;">soient</div>
<div class="t" style="left:890.29px;top:598px;font-size:22.4px;color:#2c2c2c;transform:scaleX(1.0552);-webkit-text-stroke:0.28px #f5f1ee;">individuels,</div>
<div class="t" style="left:1009.84px;top:598px;font-size:22.4px;color:#2c2c2c;transform:scaleX(1.1055);-webkit-text-stroke:0.28px #f5f1ee;">collectifs</div>
<div class="t" style="left:17.02px;top:625px;font-size:22.4px;color:#2c2c2c;transform:scaleX(1.1300);-webkit-text-stroke:0.28px #f5f1ee;">ou</div>
<div class="t" style="left:48.51px;top:625px;font-size:22.4px;color:#2c2c2c;transform:scaleX(1.0578);-webkit-text-stroke:0.28px #f5f1ee;">obligatoires,</div>
<div class="t" style="left:179.48px;top:625px;font-size:22.4px;color:#2c2c2c;transform:scaleX(1.0649);-webkit-text-stroke:0.28px #f5f1ee;">représentent</div>
<div class="t" style="left:317.83px;top:625px;font-size:22.4px;color:#2c2c2c;transform:scaleX(0.9818);-webkit-text-stroke:0.28px #f5f1ee;">59</div>
<div class="t" style="left:347.06px;top:625px;font-size:22.4px;color:#2c2c2c;transform:scaleX(0.8623);-webkit-text-stroke:0.28px #f5f1ee;">%</div>
<div class="t" style="left:368.49px;top:625px;font-size:22.4px;color:#2c2c2c;transform:scaleX(1.1233);-webkit-text-stroke:0.28px #f5f1ee;">de</div>
<div class="t" style="left:400.25px;top:625px;font-size:22.4px;color:#2c2c2c;transform:scaleX(1.0804);-webkit-text-stroke:0.28px #f5f1ee;">l’ensemble</div>
<div class="t" style="left:519.92px;top:625px;font-size:22.4px;color:#2c2c2c;transform:scaleX(1.0092);-webkit-text-stroke:0.28px #f5f1ee;">des</div>
<div class="t" style="left:561.11px;top:625px;font-size:22.4px;color:#2c2c2c;transform:scaleX(1.0417);-webkit-text-stroke:0.28px #f5f1ee;">versements</div>
<div class="t" style="left:686.23px;top:625px;font-size:22.4px;color:#2c2c2c;transform:scaleX(0.9782);-webkit-text-stroke:0.28px #f5f1ee;">sur</div>
<div class="t" style="left:721.87px;top:625px;font-size:22.4px;color:#2c2c2c;transform:scaleX(1.0348);-webkit-text-stroke:0.28px #f5f1ee;">des</div>
<div class="t" style="left:762.58px;top:625px;font-size:22.4px;color:#2c2c2c;transform:scaleX(0.8290);-webkit-text-stroke:0.28px #f5f1ee;">PER.</div>
<div class="t" style="left:17.73px;top:652px;font-size:22.4px;color:#1c1c1c;transform:scaleX(0.9910);font-weight:bold;-webkit-text-stroke:0.25px #f5f1ee;">Champ &gt;</div>
<div class="t" style="left:116.06px;top:652px;font-size:22.4px;color:#2c2c2c;transform:scaleX(1.0200);-webkit-text-stroke:0.28px #f5f1ee;">Ensemble</div>
<div class="t" style="left:222.56px;top:652px;font-size:22.4px;color:#2c2c2c;transform:scaleX(0.9655);-webkit-text-stroke:0.28px #f5f1ee;">des</div>
<div class="t" style="left:264.03px;top:652px;font-size:22.4px;color:#2c2c2c;transform:scaleX(1.0963);-webkit-text-stroke:0.28px #f5f1ee;">contrats</div>
<div class="t" style="left:356.79px;top:652px;font-size:22.4px;color:#2c2c2c;transform:scaleX(1.0413);-webkit-text-stroke:0.28px #f5f1ee;">d’épargne</div>
<div class="t" style="left:464.94px;top:652px;font-size:22.4px;color:#2c2c2c;transform:scaleX(1.1360);-webkit-text-stroke:0.28px #f5f1ee;">retraite</div>
<div class="t" style="left:549.16px;top:652px;font-size:22.4px;color:#2c2c2c;transform:scaleX(1.0307);-webkit-text-stroke:0.28px #f5f1ee;">en</div>
<div class="t" style="left:579.81px;top:652px;font-size:22.4px;color:#2c2c2c;transform:scaleX(1.0439);-webkit-text-stroke:0.28px #f5f1ee;">cours</div>
<div class="t" style="left:642.80px;top:652px;font-size:22.4px;color:#2c2c2c;transform:scaleX(1.0382);-webkit-text-stroke:0.28px #f5f1ee;">de</div>
<div class="t" style="left:673.87px;top:652px;font-size:22.4px;color:#2c2c2c;transform:scaleX(1.1318);-webkit-text-stroke:0.28px #f5f1ee;">constitution.</div>
<div class="t" style="left:17.82px;top:679px;font-size:22.4px;color:#1c1c1c;transform:scaleX(0.9586);font-weight:bold;-webkit-text-stroke:0.25px #f5f1ee;">Source &gt;</div>
<div class="t" style="left:114.03px;top:679px;font-size:22.4px;color:#2c2c2c;transform:scaleX(0.8813);-webkit-text-stroke:0.28px #f5f1ee;">DREES,</div>
<div class="t" style="left:191.13px;top:679px;font-size:22.4px;color:#2c2c2c;transform:scaleX(1.0912);-webkit-text-stroke:0.28px #f5f1ee;">enquête</div>
<div class="t" style="left:282.79px;top:679px;font-size:22.4px;color:#2c2c2c;transform:scaleX(1.0771);-webkit-text-stroke:0.28px #f5f1ee;">Retraite</div>
<div class="t" style="left:371.94px;top:679px;font-size:22.4px;color:#2c2c2c;transform:scaleX(1.0678);-webkit-text-stroke:0.28px #f5f1ee;">supplémentaire</div>
<div class="t" style="left:538.67px;top:679px;font-size:22.4px;color:#2c2c2c;transform:scaleX(1.0397);-webkit-text-stroke:0.28px #f5f1ee;">2023.</div>
</body></html>
